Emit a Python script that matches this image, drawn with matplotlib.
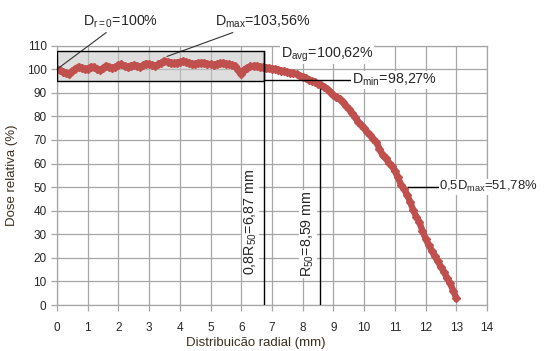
import matplotlib
matplotlib.use('Agg')
import matplotlib.pyplot as plt
import matplotlib.patches as mpatches

plt.rcParams['font.family'] = ['Liberation Sans', 'DejaVu Sans']
plt.rcParams['mathtext.fontset'] = 'custom'
plt.rcParams['mathtext.rm'] = 'Liberation Sans'
plt.rcParams['mathtext.it'] = 'Liberation Sans:italic'

# radial position (mm) and relative dose (%)
radius = [0.0, 0.1, 0.2, 0.3, 0.4, 0.5, 0.6, 0.7, 0.8, 0.9,
          1.0, 1.1, 1.2, 1.3, 1.4, 1.5, 1.6, 1.7, 1.8, 1.9,
          2.0, 2.1, 2.2, 2.3, 2.4, 2.5, 2.6, 2.7, 2.8, 2.9,
          3.0, 3.1, 3.2, 3.3, 3.4, 3.5, 3.6, 3.7, 3.8, 3.9,
          4.0, 4.1, 4.2, 4.3, 4.4, 4.5, 4.6, 4.7, 4.8, 4.9,
          5.0, 5.1, 5.2, 5.3, 5.4, 5.5, 5.6, 5.7, 5.8, 5.9,
          6.0, 6.1, 6.2, 6.3, 6.4, 6.5, 6.6, 6.7, 6.8, 6.9,
          7.0, 7.1, 7.2, 7.3, 7.4, 7.5, 7.6, 7.7, 7.8, 7.9,
          8.0, 8.1, 8.2, 8.3, 8.4, 8.5, 8.6, 8.7, 8.8, 8.9,
          9.0, 9.1, 9.2, 9.3, 9.4, 9.5, 9.6, 9.7, 9.8, 9.9,
          10.0, 10.1, 10.2, 10.3, 10.4, 10.5, 10.6, 10.7, 10.8, 10.9,
          11.0, 11.1, 11.2, 11.3, 11.4, 11.5, 11.6, 11.7, 11.8, 11.9,
          12.0, 12.1, 12.2, 12.3, 12.4, 12.5, 12.6, 12.7, 12.8, 12.9,
          13.0]
dose = [100.0, 99.6, 99.0, 98.2, 97.9, 99.2, 100.2, 101.0, 100.6, 100.0,
        100.3, 101.0, 100.8, 100.1, 99.6, 100.4, 101.4, 101.0, 100.4, 100.8,
        101.8, 102.0, 101.2, 100.9, 101.5, 101.8, 101.3, 101.0, 101.6, 102.4,
        102.1, 101.8, 101.4, 102.0, 102.8, 103.6, 103.2, 102.8, 102.5, 102.8,
        103.0, 103.3, 103.1, 102.7, 102.3, 102.2, 102.5, 102.8, 102.6, 102.3,
        102.0, 101.9, 102.2, 102.5, 102.6, 102.4, 102.0, 101.6, 101.4, 99.5,
        97.9, 99.8, 100.7, 101.2, 101.4, 101.4, 101.1, 100.9, 100.7, 100.5,
        100.3, 100.0, 99.8, 99.4, 99.2, 98.8, 98.4, 98.3, 97.9, 97.2,
        96.8, 96.3, 95.5, 95.0, 94.5, 93.7, 93.2, 92.6, 91.6, 90.5,
        89.0, 88.4, 87.3, 86.1, 84.5, 83.2, 81.3, 79.7, 77.8, 76.5,
        75.0, 73.3, 72.1, 70.4, 69.0, 66.2, 63.5, 62.2, 60.4, 58.9,
        57.0, 54.2, 51.0, 49.2, 46.8, 43.6, 40.2, 37.4, 35.1, 31.4,
        28.2, 25.4, 23.1, 20.6, 18.6, 16.0, 14.1, 11.4, 9.2, 6.1,
        3.0]

r_08 = 6.74        # 0,8 R50 marker line
r_50 = 8.57        # R50 marker line
box_low, box_high = 94.8, 107.6
red = '#c0504d'
grid_c = '#a6a6a6'
txt_c = '#262626'

fig = plt.figure(figsize=(5.46, 3.51), dpi=100)
ax = fig.add_axes([0.1044, 0.131, 0.7875, 0.739])

ax.set_xlim(0, 14)
ax.set_ylim(0, 110)
ax.set_xticks(range(0, 15))
ax.set_yticks(range(0, 111, 10))
ax.grid(True, color=grid_c, lw=0.9)
for s in ax.spines.values():
    s.set_color(grid_c)
    s.set_linewidth(0.9)
ax.tick_params(colors=grid_c, length=4, width=0.9, labelcolor=txt_c, labelsize=8.5)
ax.tick_params(axis='x', pad=8)

# gray box around the plateau
ax.add_patch(mpatches.Rectangle((0, box_low), r_08, box_high - box_low,
                                fc='#c4c4c4', alpha=0.55, ec='none', zorder=2))
ax.add_patch(mpatches.Rectangle((0, box_low), r_08, box_high - box_low,
                                fc='none', ec='black', lw=1, zorder=4))

ax.plot(radius, dose, color=red, lw=4.6, marker='D', ms=4.2, mec=red, zorder=3,
        solid_joinstyle='miter')

# marker lines
ax.plot([r_08, r_08], [0, box_high], color='black', lw=1, zorder=4)
ax.plot([r_50, r_50], [0, 91.5], color='black', lw=1, zorder=4)
ax.plot([r_08, 9.55], [95.5, 95.5], color='black', lw=1, zorder=4)

wb = dict(boxstyle='square,pad=0.05', fc='white', ec='none')
fs = 10.3

ax.annotate('D$_{\\mathrm{r=0}}$=100%', xy=(0, 100), xytext=(0.86, 120.2),
            fontsize=fs, color=txt_c, va='center', ha='left',
            arrowprops=dict(arrowstyle='-', color='#333333', lw=0.8, shrinkA=0, shrinkB=0),
            annotation_clip=False)
ax.annotate('D$_{\\mathrm{max}}$=103,56%', xy=(3.58, 105.4), xytext=(5.15, 120.2),
            fontsize=fs, color=txt_c, va='center', ha='left',
            arrowprops=dict(arrowstyle='-', color='#333333', lw=0.8, shrinkA=0, shrinkB=0),
            annotation_clip=False)
ax.text(7.28, 106.2, 'D$_{\\mathrm{avg}}$=100,62%', fontsize=fs, color=txt_c,
        va='center', ha='left', bbox=wb, zorder=5, clip_on=False)
ax.text(9.6, 95.5, 'D$_{\\mathrm{min}}$=98,27%', fontsize=fs, color=txt_c,
        va='center', ha='left', bbox=wb, zorder=5, clip_on=False)
ax.text(6.30, 35.2, '0,8R$_{\\mathrm{50}}$=6,87 mm', fontsize=fs, color=txt_c,
        rotation=90, va='center', ha='center', bbox=wb, zorder=5)
ax.text(8.16, 30.1, 'R$_{\\mathrm{50}}$=8,59 mm', fontsize=fs, color=txt_c,
        rotation=90, va='center', ha='center', bbox=wb, zorder=5)
ax.plot([11.44, 12.42], [50.1, 50.1], color='black', lw=1, zorder=4)
ax.text(12.45, 50.1, '0,5D$_{\\mathrm{max}}$=51,78%', fontsize=9.4, color=txt_c,
        va='center', ha='left', bbox=wb, zorder=5, clip_on=False)

ax.set_xlabel('Distribuicão radial (mm)', fontsize=9.5, color='#3a3020')
ax.set_ylabel('Dose relativa (%)', fontsize=9.5, color='#3a3020')
ax.xaxis.set_label_coords(0.463, -0.125)
ax.yaxis.set_label_coords(-0.09, 0.5)

fig.savefig('out.png', dpi=100, facecolor='white')
